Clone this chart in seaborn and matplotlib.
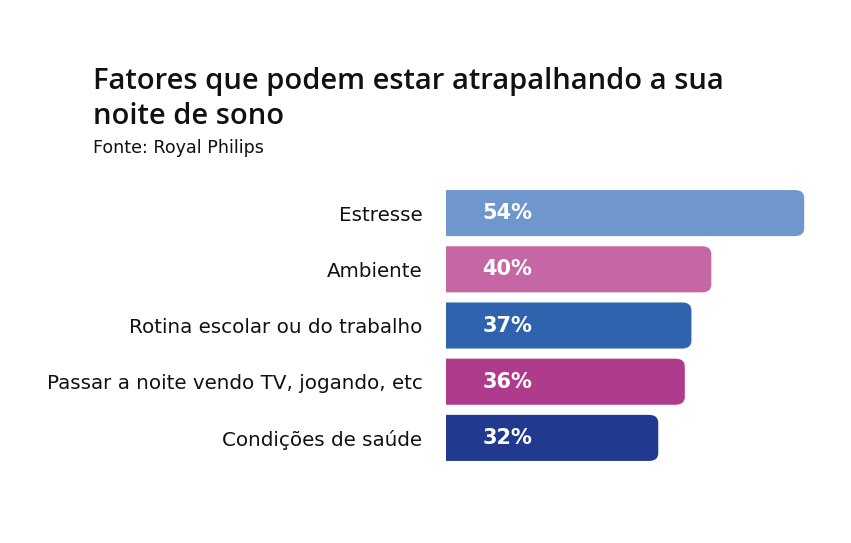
import matplotlib
matplotlib.use("Agg")
import matplotlib.pyplot as plt
from matplotlib.patches import FancyBboxPatch
import seaborn as sns
import pandas as pd

categories = ["Estresse", "Ambiente", "Rotina escolar ou do trabalho",
              "Passar a noite vendo TV, jogando, etc", "Condições de saúde"]
values = [54, 40, 37, 36, 32]
colors = ["#7097CD", "#C467A4", "#3063AE", "#AE3B8C", "#213A8F"]

df = pd.DataFrame({"fator": categories, "pct": values})

sns.set_style("white")
plt.rcParams["font.family"] = ["DejaVu Sans"]

fig = plt.figure(figsize=(8.51, 5.43), dpi=100)
ax = fig.add_axes([446 / 851, 77 / 543, 398 / 851, 281 / 543])
sns.barplot(data=df, x="pct", y="fator", hue="fator", palette=colors,
            legend=False, width=0.82, ax=ax, saturation=1)
ax.set_xlim(0, 60)
ax.set_ylim(4.5, -0.5)

# swap the plain bars for ones with a rounded right end
for p in list(ax.patches):
    x, y = p.get_x(), p.get_y()
    w, h = p.get_width(), p.get_height()
    rounded = FancyBboxPatch((x - 3, y), w + 3, h,
                             boxstyle="round,pad=0,rounding_size=1.4",
                             mutation_aspect=h / 1.4 * 0.17,
                             facecolor=p.get_facecolor(), edgecolor="none")
    p.remove()
    ax.add_patch(rounded)

for i, v in enumerate(values):
    ax.text(5.5, i, f"{v}%", color="white", fontsize=15, fontweight="bold",
            va="center", ha="left")

ax.set_xlabel("")
ax.set_ylabel("")
ax.set_xticks([])
ax.tick_params(axis="y", length=0, pad=17, labelsize=14.3, labelcolor="#111111")
for lbl in ax.get_yticklabels():
    lbl.set_va("center_baseline")
sns.despine(ax=ax, left=True, bottom=True)

fig.text(93 / 851, 1 - 67 / 543, "Fatores que podem estar atrapalhando a sua\nnoite de sono",
         fontsize=21, fontweight="semibold", va="top", ha="left", color="#111111",
         linespacing=1.25, family=["Open Sans", "DejaVu Sans"])
fig.text(93 / 851, 1 - 139 / 543, "Fonte: Royal Philips", fontsize=12.6,
         va="top", ha="left", color="#111111")

fig.savefig("out.png", dpi=100)
